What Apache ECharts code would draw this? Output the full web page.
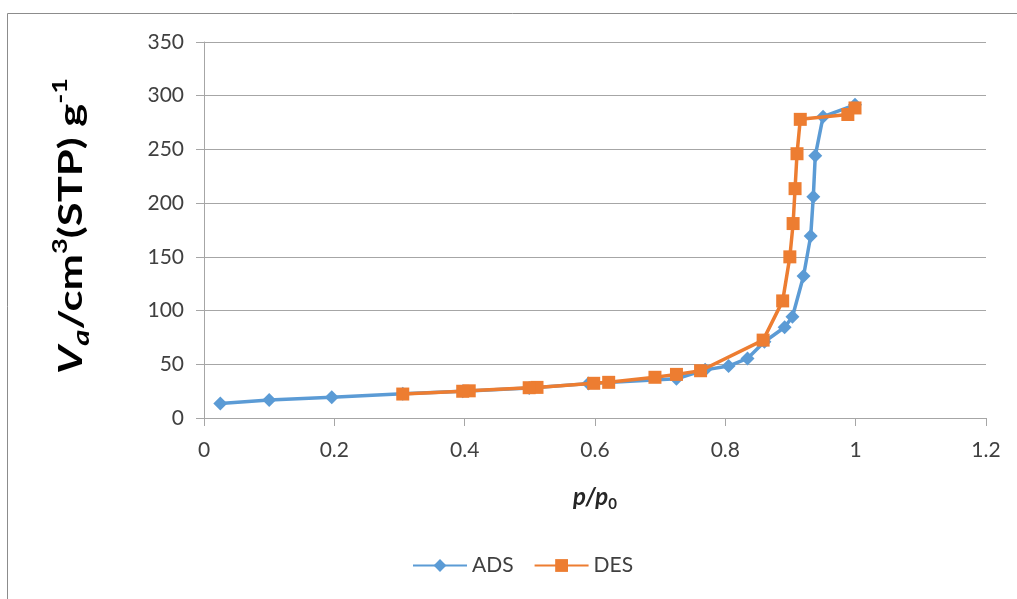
<!DOCTYPE html>
<html>
<head>
<meta charset="utf-8">
<script src="https://cdn.jsdelivr.net/npm/echarts@6/dist/echarts.min.js"></script>
<style>
html,body{margin:0;padding:0;background:#fff;}
#c{width:1017px;height:599px;}
</style>
</head>
<body>
<div id="c"></div>
<script>
// Data
var adsX = [0.025, 0.100, 0.196, 0.305, 0.397, 0.499, 0.590, 0.725, 0.769, 0.805, 0.834, 0.860, 0.891, 0.903, 0.920, 0.931, 0.935, 0.938, 0.950, 0.999];
var adsY = [13.6, 16.8, 19.3, 22.5, 24.8, 28.0, 32.0, 36.5, 44.8, 48.4, 55.5, 71.0, 84.5, 94.3, 132.2, 169.4, 206.0, 244.0, 280.5, 291.5];
var desX = [0.999, 0.988, 0.915, 0.910, 0.907, 0.904, 0.899, 0.888, 0.858, 0.762, 0.725, 0.692, 0.621, 0.598, 0.511, 0.499, 0.407, 0.397, 0.305];
var desY = [288.6, 282.5, 278.0, 246.0, 213.5, 181.0, 150.0, 109.0, 72.5, 44.0, 40.6, 37.9, 33.2, 32.3, 28.5, 28.2, 25.3, 24.9, 22.3];
var seriesNames = ['ADS', 'DES'];
var xTicks = {min: 0, max: 1.2, interval: 0.2};
var yTicks = {min: 0, max: 350, interval: 50};
var yTitle = '{v|V}{a|a}{t|/cm}{s|3}{t|(STP) g}{s|-1}';
var xTitle = '{p|p/p}{sub|0}';

function pairs(xs, ys) { return xs.map(function (x, i) { return [x, ys[i]]; }); }

var FONT = 'Lato';
var chart = echarts.init(document.getElementById('c'));
chart.setOption({
  animation: false,
  textStyle: {fontFamily: FONT},
  graphic: [
    {type: 'line', shape: {x1: 7.5, y1: 13.5, x2: 1017, y2: 13.5}, style: {stroke: '#8c8c8c', lineWidth: 1}},
    {type: 'line', shape: {x1: 7.5, y1: 13.5, x2: 7.5, y2: 599}, style: {stroke: '#8c8c8c', lineWidth: 1}},
    {
      type: 'text', x: 72, y: 226, rotation: Math.PI / 2, scaleX: 1.36, scaleY: 1,
      style: {
        text: yTitle, align: 'center', verticalAlign: 'middle',
        rich: {
          v: {fontFamily: FONT, fontSize: 32, fontWeight: 'bold', fontStyle: 'italic', fill: '#000', lineHeight: 42, verticalAlign: 'middle'},
          a: {fontFamily: FONT, fontSize: 23, fontWeight: 'bold', fontStyle: 'italic', fill: '#000', lineHeight: 42, verticalAlign: 'bottom'},
          t: {fontFamily: FONT, fontSize: 32, fontWeight: 'bold', fill: '#000', lineHeight: 42, verticalAlign: 'middle'},
          s: {fontFamily: FONT, fontSize: 20, fontWeight: 'bold', fill: '#000', lineHeight: 24, verticalAlign: 'top'}
        }
      }
    }
  ],
  grid: {left: 204, top: 42, right: 31, bottom: 181, containLabel: false},
  legend: {
    data: seriesNames,
    left: 407,
    top: 550,
    itemWidth: 54,
    itemHeight: 16,
    itemGap: 20,
    textStyle: {fontFamily: FONT, fontSize: 21, color: '#404040'}
  },
  xAxis: {
    type: 'value',
    min: xTicks.min, max: xTicks.max, interval: xTicks.interval,
    axisLine: {show: true, onZero: false, lineStyle: {color: '#a6a6a6', width: 1}},
    axisTick: {show: true, length: 8, inside: false, lineStyle: {color: '#a6a6a6'}},
    splitLine: {show: false},
    axisLabel: {fontFamily: FONT, fontSize: 21, color: '#404040', margin: 22},
    name: xTitle,
    nameLocation: 'middle',
    nameGap: 64,
    nameTextStyle: {
      rich: {
        p: {fontFamily: FONT, fontSize: 24, fontWeight: 'bold', fontStyle: 'italic', color: '#262626', lineHeight: 30, verticalAlign: 'middle'},
        sub: {fontFamily: FONT, fontSize: 15, fontWeight: 'bold', color: '#262626', lineHeight: 30, verticalAlign: 'bottom'}
      }
    }
  },
  yAxis: {
    type: 'value',
    min: yTicks.min, max: yTicks.max, interval: yTicks.interval,
    axisLine: {show: true, lineStyle: {color: '#a6a6a6', width: 1}},
    axisTick: {show: true, length: 8, inside: false, lineStyle: {color: '#a6a6a6'}},
    splitLine: {show: true, lineStyle: {color: '#a6a6a6', width: 1}},
    axisLabel: {fontFamily: FONT, fontSize: 21, color: '#404040', margin: 20}
  },
  series: [
    {
      name: seriesNames[0], type: 'line', data: pairs(adsX, adsY),
      symbol: 'diamond', symbolSize: 14,
      lineStyle: {color: '#5b9bd5', width: 3.5},
      itemStyle: {color: '#5b9bd5'},
      z: 2
    },
    {
      name: seriesNames[1], type: 'line', data: pairs(desX, desY),
      symbol: 'rect', symbolSize: 13,
      lineStyle: {color: '#ed7d31', width: 3.5},
      itemStyle: {color: '#ed7d31'},
      z: 3
    }
  ]
});
</script>
</body>
</html>
